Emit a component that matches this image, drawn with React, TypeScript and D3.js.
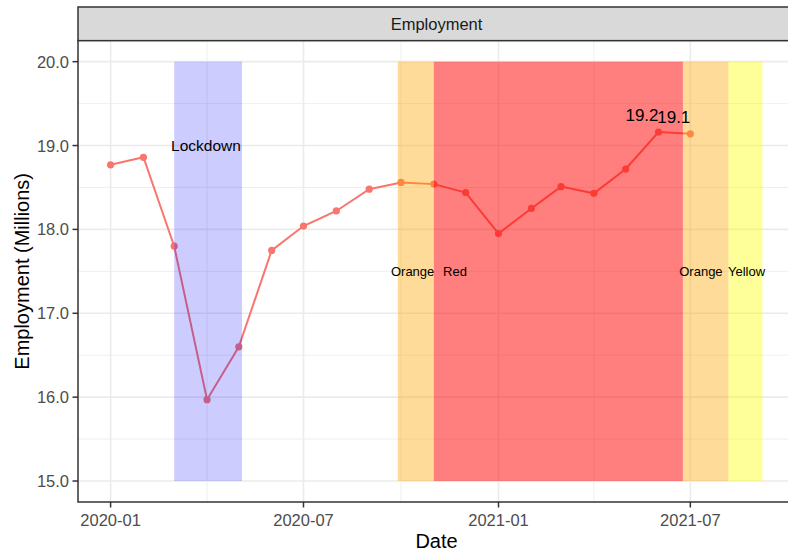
import React from "react";
import * as d3 from "d3";

const dates = [
  "2020-01-01","2020-02-01","2020-03-01","2020-04-01","2020-05-01","2020-06-01",
  "2020-07-01","2020-08-01","2020-09-01","2020-10-01","2020-11-01","2020-12-01",
  "2021-01-01","2021-02-01","2021-03-01","2021-04-01","2021-05-01","2021-06-01","2021-07-01",
];
const employment = [
  18.77, 18.86, 17.80, 15.97, 16.60, 17.75,
  18.04, 18.22, 18.48, 18.56, 18.54, 18.44,
  17.95, 18.25, 18.51, 18.43, 18.72, 19.16, 19.14,
];

const periodNames = ["Lockdown", "Orange", "Red", "Orange", "Yellow"];
const periodStarts = ["2020-03-01", "2020-09-28", "2020-11-01", "2021-06-24", "2021-08-06"];
const periodEnds = ["2020-05-04", "2020-11-01", "2021-06-24", "2021-08-06", "2021-09-07"];
const periodFills = ["#0000FF", "#FFA500", "#FF0000", "#FFA500", "#FFFF00"];
const periodAlphas = [0.2, 0.4, 0.5, 0.4, 0.4];
const periodLabelDates = ["2020-03-31", "2020-10-12", "2020-11-21", "2021-07-11", "2021-08-23"];
const periodLabelValues = [19.0, 17.5, 17.5, 17.5, 17.5];
const periodLabelSizes = [15.5, 13, 13, 13, 13];

const labelIdx = [17, 18];
const labelTexts = ["19.2", "19.1"];

const yTicks = [15, 16, 17, 18, 19, 20];
const yMinor = [15.5, 16.5, 17.5, 18.5, 19.5];
const xTicks = ["2020-01-01", "2020-07-01", "2021-01-01", "2021-07-01"];
const xMinor = ["2020-04-01", "2020-10-01", "2021-04-01"];

const parse = d3.utcParse("%Y-%m-%d");
const fmt = d3.utcFormat("%Y-%m");
const FONT = "'Liberation Sans', Arial, Helvetica, sans-serif";

export default function App() {
  const W = 788, H = 552;
  const left = 78, right = 795, top = 40.7, bottom = 502;
  const stripTop = 7;

  const allDates = [...dates, ...periodStarts, ...periodEnds].map((d) => parse(d)!.getTime());
  const dMin = d3.min(allDates)!, dMax = d3.max(allDates)!;
  const pad = (dMax - dMin) * 0.05;
  const x = d3.scaleUtc().domain([new Date(dMin - pad), new Date(dMax + pad)]).range([left, right]);
  const y = d3.scaleLinear().domain([14.75, 20.25]).range([bottom, top]);

  const pts = dates.map((d, i) => ({ d: parse(d)!, v: employment[i] }));
  const line = d3.line<{ d: Date; v: number }>().x((p) => x(p.d)).y((p) => y(p.v));
  const lineColor = "#F8766D";

  return (
    <svg width={W} height={H} style={{ position: "absolute", left: 0, top: 0, background: "#fff" }}>
      <rect x={0} y={0} width={W} height={H} fill="#fff" />
      {/* strip */}
      <rect x={left} y={stripTop} width={right - left} height={top - stripTop} fill="#D9D9D9" stroke="#333" strokeWidth={1.5} />
      <text x={(left + right) / 2} y={(stripTop + top) / 2} textAnchor="middle" dominantBaseline="central"
        fontFamily={FONT} fontSize={16.5} fill="#1A1A1A">Employment</text>
      {/* panel */}
      <rect x={left} y={top} width={right - left} height={bottom - top} fill="#fff" />
      {yMinor.map((v) => (
        <line key={"ym" + v} x1={left} x2={right} y1={y(v)} y2={y(v)} stroke="#EBEBEB" strokeWidth={0.8} />
      ))}
      {xMinor.map((d) => (
        <line key={"xm" + d} x1={x(parse(d)!)} x2={x(parse(d)!)} y1={top} y2={bottom} stroke="#EBEBEB" strokeWidth={0.8} />
      ))}
      {yTicks.map((v) => (
        <line key={"yM" + v} x1={left} x2={right} y1={y(v)} y2={y(v)} stroke="#EBEBEB" strokeWidth={1.6} />
      ))}
      {xTicks.map((d) => (
        <line key={"xM" + d} x1={x(parse(d)!)} x2={x(parse(d)!)} y1={top} y2={bottom} stroke="#EBEBEB" strokeWidth={1.6} />
      ))}
      {/* data */}
      <path d={line(pts)!} fill="none" stroke={lineColor} strokeWidth={2} />
      {pts.map((p, i) => (
        <circle key={"p" + i} cx={x(p.d)} cy={y(p.v)} r={3.6} fill={lineColor} />
      ))}
      {/* period rectangles */}
      {periodNames.map((n, i) => {
        const x0 = x(parse(periodStarts[i])!), x1 = x(parse(periodEnds[i])!);
        return (
          <rect key={"r" + i} x={x0} y={y(20)} width={x1 - x0} height={y(15) - y(20)}
            fill={periodFills[i]} fillOpacity={periodAlphas[i]} />
        );
      })}
      {periodNames.map((n, i) => (
        <text key={"pl" + i} x={x(parse(periodLabelDates[i])!)} y={y(periodLabelValues[i])}
          textAnchor="middle" dominantBaseline="central" fontFamily={FONT}
          fontSize={periodLabelSizes[i]} fill="#000">{n}</text>
      ))}
      {labelIdx.map((idx, k) => (
        <text key={"vl" + k} x={x(pts[idx].d)} y={y(pts[idx].v) - 16.5} textAnchor="end"
          dominantBaseline="central" fontFamily={FONT} fontSize={17} fill="#000">{labelTexts[k]}</text>
      ))}
      {/* border */}
      <rect x={left} y={top} width={right - left} height={bottom - top} fill="none" stroke="#333" strokeWidth={1.5} />
      {/* y axis */}
      {yTicks.map((v) => (
        <g key={"yt" + v}>
          <line x1={left - 5.5} x2={left} y1={y(v)} y2={y(v)} stroke="#333" strokeWidth={1.5} />
          <text x={left - 9} y={y(v)} textAnchor="end" dominantBaseline="central" fontFamily={FONT}
            fontSize={16.5} fill="#4D4D4D">{d3.format(".1f")(v)}</text>
        </g>
      ))}
      {/* x axis */}
      {xTicks.map((d) => (
        <g key={"xt" + d}>
          <line x1={x(parse(d)!)} x2={x(parse(d)!)} y1={bottom} y2={bottom + 5.5} stroke="#333" strokeWidth={1.5} />
          <text x={x(parse(d)!)} y={bottom + 18} textAnchor="middle" dominantBaseline="central" fontFamily={FONT}
            fontSize={16.5} fill="#4D4D4D">{fmt(parse(d)!)}</text>
        </g>
      ))}
      <text x={(left + right) / 2} y={541} textAnchor="middle" dominantBaseline="central" fontFamily={FONT}
        fontSize={20} fill="#000">Date</text>
      <text transform={`translate(22,${(top + bottom) / 2}) rotate(-90)`} textAnchor="middle" dominantBaseline="central"
        fontFamily={FONT} fontSize={20} fill="#000">Employment (Millions)</text>
    </svg>
  );
}
